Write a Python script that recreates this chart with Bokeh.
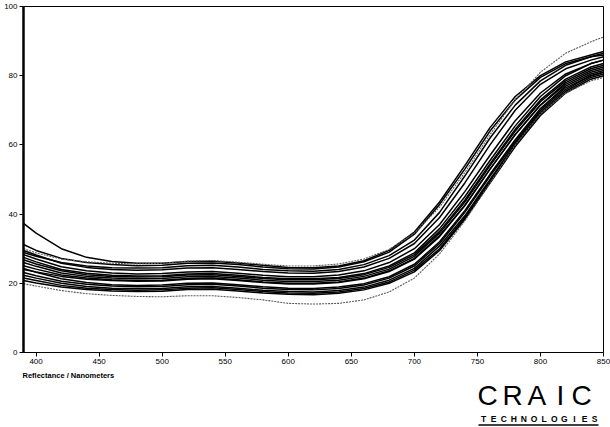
from bokeh.plotting import figure
from bokeh.layouts import column
from bokeh.models import FixedTicker, Range1d
from bokeh.core.properties import value
from bokeh.embed import file_html
from bokeh.resources import INLINE

# wavelength grid (nm)
wavelength = [390, 400, 420, 440, 460, 480, 500, 520, 540, 560, 580, 600, 620,
              640, 660, 680, 700, 720, 740, 760, 780, 800, 820, 840, 850]

# reflectance spectra (%), one list per measured sample
refl_a = [37.3, 34.5, 30.0, 27.5, 26.3, 25.8, 25.8, 26.3, 26.4, 25.9, 25.2, 24.6, 24.5,
          25.0, 26.5, 29.5, 34.8, 43.5, 54.0, 65.0, 74.0, 80.0, 84.0, 86.0, 87.0]
refl_b = [31.2, 29.5, 27.2, 26.0, 25.4, 25.1, 25.2, 25.8, 25.9, 25.4, 24.7, 24.2, 24.1,
          24.7, 26.2, 29.0, 34.2, 42.8, 53.0, 64.0, 73.0, 79.5, 83.5, 85.5, 86.0]
refl_c = [30.0, 28.8, 27.0, 26.2, 25.8, 25.6, 25.8, 26.4, 26.6, 26.1, 25.5, 25.0, 25.0,
          25.6, 27.0, 29.8, 34.5, 42.0, 52.0, 63.0, 73.0, 81.0, 86.5, 89.8, 91.2]
refl_d = [28.9, 27.8, 26.0, 25.0, 24.5, 24.4, 24.5, 25.1, 25.2, 24.7, 24.0, 23.6, 23.5,
          24.0, 25.4, 28.0, 32.5, 40.5, 51.0, 62.0, 71.5, 78.5, 83.0, 85.5, 86.5]
refl_p = [29.5, 28.2, 25.8, 24.6, 24.0, 23.8, 23.9, 24.4, 24.5, 24.0, 23.4, 23.0, 22.9,
          23.4, 24.7, 27.2, 31.5, 39.0, 49.0, 60.0, 70.0, 77.5, 82.0, 84.5, 85.5]
refl_e = [28.3, 27.0, 24.8, 23.6, 23.0, 22.7, 22.8, 23.3, 23.4, 22.9, 22.3, 21.9, 21.9,
          22.4, 23.6, 26.0, 30.0, 37.0, 46.5, 57.0, 67.0, 75.0, 80.5, 83.5, 84.5]
refl_f = [27.5, 26.2, 24.0, 22.9, 22.3, 22.1, 22.2, 22.7, 22.8, 22.3, 21.7, 21.3, 21.3,
          21.7, 22.8, 25.0, 28.8, 35.8, 45.0, 55.5, 65.5, 74.0, 80.0, 83.5, 84.5]
refl_g = [26.8, 25.6, 23.6, 22.5, 22.0, 21.8, 21.9, 22.4, 22.5, 22.0, 21.4, 21.0, 21.0,
          21.4, 22.5, 24.6, 28.3, 35.0, 44.0, 54.5, 64.5, 73.0, 79.0, 82.5, 83.5]
refl_h = [26.0, 24.9, 23.0, 22.0, 21.5, 21.3, 21.4, 21.9, 22.0, 21.5, 20.9, 20.5, 20.5,
          20.9, 22.0, 24.1, 27.8, 34.5, 43.5, 54.0, 64.0, 72.5, 78.5, 82.0, 83.0]
refl_q = [24.0, 23.3, 22.0, 21.2, 20.8, 20.6, 20.7, 21.2, 21.3, 20.8, 20.2, 19.8, 19.8,
          20.2, 21.3, 23.4, 27.0, 33.5, 42.5, 53.0, 63.0, 71.5, 78.0, 81.5, 82.5]
refl_i = [25.1, 24.1, 22.4, 21.5, 21.0, 20.8, 20.9, 21.4, 21.5, 21.0, 20.4, 20.0, 20.0,
          20.4, 21.5, 23.6, 27.2, 33.8, 42.5, 53.0, 63.0, 71.5, 77.5, 81.0, 82.0]
refl_j = [24.3, 23.2, 21.3, 20.2, 19.6, 19.4, 19.5, 20.0, 20.1, 19.6, 19.0, 18.6, 18.5,
          18.9, 19.9, 21.9, 25.5, 32.0, 41.0, 51.5, 61.5, 70.5, 77.0, 80.5, 81.5]
refl_k = [23.1, 22.2, 20.6, 19.7, 19.2, 19.0, 19.1, 19.6, 19.7, 19.2, 18.6, 18.2, 18.1,
          18.5, 19.5, 21.5, 25.0, 31.5, 40.5, 51.0, 61.0, 70.0, 76.5, 80.0, 81.0]
refl_l = [22.3, 21.5, 20.0, 19.1, 18.6, 18.4, 18.5, 19.0, 19.1, 18.6, 18.0, 17.6, 17.5,
          17.9, 18.9, 20.9, 24.3, 30.8, 39.5, 50.0, 60.5, 69.5, 76.0, 80.0, 81.0]
refl_m = [21.5, 20.8, 19.4, 18.6, 18.2, 18.0, 18.1, 18.6, 18.7, 18.2, 17.6, 17.2, 17.1,
          17.5, 18.5, 20.4, 23.8, 30.0, 39.0, 49.5, 60.0, 69.0, 75.5, 79.5, 80.5]
refl_n = [20.8, 20.1, 18.9, 18.2, 17.8, 17.6, 17.7, 18.2, 18.3, 17.8, 17.2, 16.8, 16.7,
          17.1, 18.1, 20.0, 23.3, 29.5, 38.5, 49.0, 59.5, 68.5, 75.0, 79.0, 80.0]
refl_o = [19.9, 19.2, 17.9, 17.0, 16.5, 16.2, 16.1, 16.4, 16.4, 15.9, 15.2, 14.2, 14.0,
          14.2, 15.2, 17.5, 21.5, 28.5, 38.0, 49.0, 60.0, 69.0, 75.0, 78.5, 79.5]

dark_spectra = [refl_a, refl_b, refl_d, refl_p, refl_e, refl_f, refl_g, refl_h,
                refl_q, refl_i, refl_j, refl_k, refl_l, refl_m, refl_n]
light_spectra = [refl_c, refl_o]

x_ticks = [400, 450, 500, 550, 600, 650, 700, 750, 800, 850]
y_ticks = [0, 20, 40, 60, 80, 100]

caption = "Reflectance / Nanometers"
logo_letters = ["C", "R", "A", "I", "C"]
tech_word = "TECHNOLOGIES"

# ---- spectrum plot -------------------------------------------------------
p = figure(width=610, height=372, output_backend="svg", toolbar_location=None,
           x_range=(390, 850), y_range=(0, 100),
           min_border_left=23, min_border_right=7, min_border_top=6, min_border_bottom=20)
p.frame_align = False
p.background_fill_color = "white"
p.border_fill_color = "white"
p.grid.visible = False
p.outline_line_color = "black"
p.outline_line_width = 1

for ys in dark_spectra:
    p.line(wavelength, ys, line_color="black", line_width=1.5)
for ys in light_spectra:
    p.line(wavelength, ys, line_color="#5a5a5a", line_width=1.1, line_dash="2 1")

tick_font = "Liberation Sans Narrow, Liberation Sans, sans-serif"
for ax in (p.xaxis[0], p.yaxis[0]):
    ax.major_label_text_font = tick_font
    ax.major_label_text_font_size = "8px"
    ax.major_label_text_color = "black"
    ax.major_tick_line_color = "black"
    ax.major_tick_out = 4
    ax.major_tick_in = 0
    ax.minor_tick_line_color = None
    ax.axis_line_color = "black"
    ax.major_label_standoff = 2
p.xaxis[0].ticker = FixedTicker(ticks=x_ticks)
p.yaxis[0].ticker = FixedTicker(ticks=y_ticks)
p.yaxis[0].axis_line_width = 2.5
p.xaxis[0].axis_line_width = 1.2

# ---- footer strip: caption and company mark (pixel coordinates) -----------
f = figure(width=610, height=55, output_backend="svg", toolbar_location=None,
           x_range=Range1d(0, 610), y_range=Range1d(427, 372),
           x_axis_location=None, y_axis_location=None,
           min_border=0, outline_line_color=None)
f.frame_align = False
f.grid.visible = False
f.background_fill_color = "white"
f.border_fill_color = "white"

f.text(x=[22], y=[375], text=[caption], text_font=value("Liberation Sans"),
       text_font_size="7.5px", text_font_style="bold", text_color="black",
       text_baseline="middle", text_align="left")

logo_x = [477, 502, 527, 556, 571]
f.text(x=logo_x, y=[395] * len(logo_letters), text=logo_letters,
       text_font=value("Liberation Sans"), text_font_size="28px",
       text_color="black", text_baseline="middle", text_align="left")

tech_letters = list(tech_word)
tech_x = [483 + k * 10.1 for k in range(len(tech_letters))]
f.text(x=tech_x, y=[418.5] * len(tech_letters), text=tech_letters,
       text_font=value("Liberation Sans"), text_font_size="8.5px",
       text_font_style="bold", text_color="black",
       text_baseline="middle", text_align="center")
f.segment(x0=[478], y0=[424.5], x1=[598], y1=[424.5], line_color="black", line_width=1.6)

open("out.html", "w").write(file_html(column(p, f, spacing=0), INLINE))
